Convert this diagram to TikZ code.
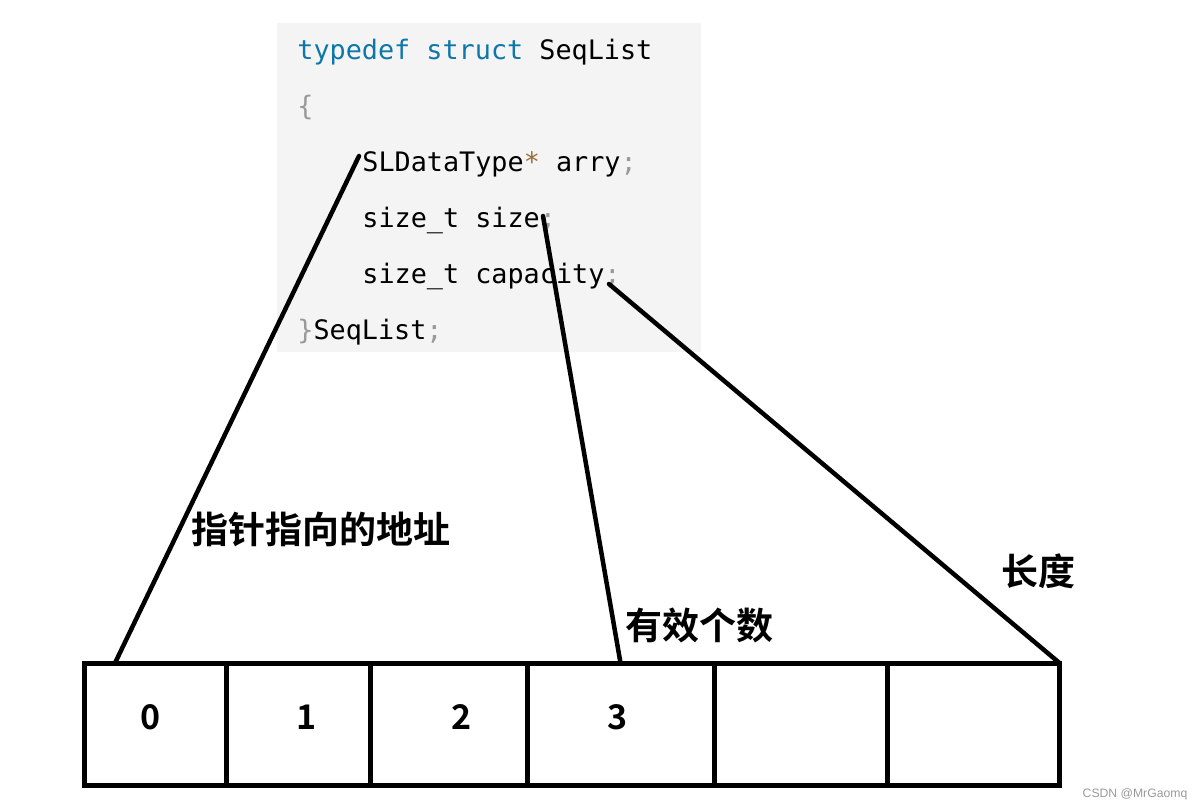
\documentclass[tikz,border=0pt]{standalone}
\usepackage{fontspec}
\usepackage{tikz}
\usetikzlibrary{positioning}
\newfontfamily\codefont{DejaVu Sans Mono}
\newfontfamily\cjk{Noto Sans CJK SC}[BoldFont=* Bold]
\newfontfamily\markfont{Liberation Sans}
\definecolor{codebg}{HTML}{F4F4F4}
\definecolor{kwblue}{HTML}{0E77AA}
\definecolor{punctgray}{HTML}{999999}
\definecolor{opbrown}{HTML}{9A6E3A}
\begin{document}
\begin{tikzpicture}[x=0.5pt, y=-0.5pt]
    % Define styles
    \tikzstyle{codeline} = [anchor=base west, inner sep=0pt, font=\codefont\fontsize{13.4}{16}\selectfont]
    \tikzstyle{cell} = [rectangle, draw=black, line width=2.5pt, minimum height=61.25pt, inner sep=0pt, outer sep=0pt]
    \tikzstyle{digit} = [inner sep=0pt, font=\cjk\bfseries\fontsize{17}{20}\selectfont]
    \tikzstyle{note} = [inner sep=0pt, font=\cjk\bfseries\fontsize{18.5}{22}\selectfont]
    \tikzstyle{link} = [line width=2.25pt, line cap=round]
    \useasboundingbox (0,0) rectangle (1202,810);

    % Struct code
    \fill [codebg] (277,23) rectangle (701,352);
    \node [codeline] (head) at (297,59) {{\color{kwblue}typedef struct} SeqList};
    \node [codeline] (open) at (297,115) {{\color{punctgray}\{}};
    \node [codeline] (arry) at (362,171) {SLDataType{\color{opbrown}*} arry{\color{punctgray};}};
    \node [codeline] (size) at (362,227) {size\_t size{\color{punctgray};}};
    \node [codeline] (capacity) at (362,283) {size\_t capacity{\color{punctgray};}};
    \node [codeline] (close) at (297,339) {{\color{punctgray}\}}SeqList{\color{punctgray};}};

    % Array cells
    \node [cell, minimum width=70.75pt] (c0) at (155.25,724.25) {};
    \node [cell, minimum width=72pt, right=0pt of c0] (c1) {};
    \node [cell, minimum width=78.5pt, right=0pt of c1] (c2) {};
    \node [cell, minimum width=93.5pt, right=0pt of c2] (c3) {};
    \node [cell, minimum width=86.5pt, right=0pt of c3] (c4) {};
    \node [cell, minimum width=86.25pt, right=0pt of c4] (c5) {};
    \node [digit] (n0) at (151,717) {0};
    \node [digit] (n1) at (307,717) {1};
    \node [digit] (n2) at (462,717) {2};
    \node [digit] (n3) at (618,717) {3};

    % Labels
    \node [note] (addr) at (321,529) {指针指向的地址};
    \node [note] (count) at (699,625) {有效个数};
    \node [note] (len) at (1038,571) {长度};

    % Links
    \coordinate (pArry) at (359,156);
    \coordinate (pSize) at (543,216);
    \coordinate (pCap) at (609,284);
    \coordinate (qArry) at (115,663);
    \draw [link] (pArry) -- (qArry);
    \draw [link] (pSize) -- (c3.north);
    \draw [link] (pCap) -- (c5.north east);

    \node [inner sep=0pt, text=punctgray, font=\markfont\fontsize{6.1}{7}\selectfont] (mark) at (1135,794) {CSDN @MrGaomq};
\end{tikzpicture}
\end{document}
